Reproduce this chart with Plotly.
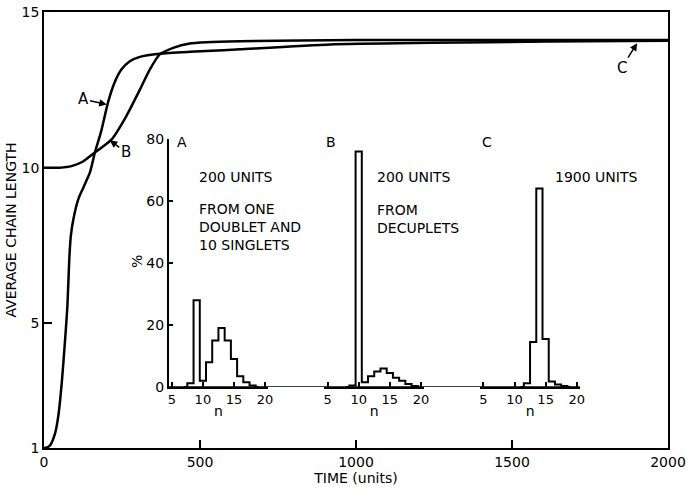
import plotly.graph_objects as go

# ---- main curves (average chain length vs time) ----
A_t = [0, 3, 19, 35, 46, 57, 67, 75, 81, 86, 94, 110, 126, 147, 163, 184, 205, 226, 248, 275, 307, 371, 467, 574, 628, 917, 1238, 1613, 2000]
A_v = [1.0, 1.0, 1.08, 1.45, 2.04, 3.1, 4.39, 5.56, 7.06, 7.81, 8.34, 8.99, 9.36, 9.84, 10.48, 11.2, 12.09, 12.73, 13.15, 13.42, 13.56, 13.66, 13.72, 13.77, 13.8, 13.96, 14.01, 14.05, 14.08]
B_t = [0, 50, 88, 125, 162, 216, 264, 307, 339, 371, 414, 467, 521, 628, 1000, 1500, 2000]
B_v = [10.0, 10.0, 10.05, 10.2, 10.48, 10.9, 11.66, 12.5, 13.15, 13.64, 13.85, 13.99, 14.03, 14.06, 14.1, 14.1, 14.1]

# ---- inset histograms (% vs n) ----
nA = [7, 8, 9, 10, 11, 12, 13, 14, 15, 16, 17, 18, 19]
pA = [0, 1.2, 28, 2, 8, 15, 19, 15, 9, 3.5, 1.5, 0.5, 0]
nB = [8, 9, 10, 11, 12, 13, 14, 15, 16, 17, 18, 19, 20]
pB = [0, 0.5, 76, 1.5, 3.5, 5, 6, 4.5, 3, 2, 1, 0.3, 0]
nC = [11, 12, 13, 14, 15, 16, 17, 18, 19]
pC = [0, 1.2, 14.5, 64, 15.5, 1.8, 0.8, 0.3, 0]

main_ticks = [0, 500, 1000, 1500, 2000]
y_ticks = [1, 5, 10, 15]
pct_ticks = [0, 20, 40, 60, 80]
n_ticks = [5, 10, 15, 20]

FONT = "DejaVu Sans"
fig = go.Figure()

fig.add_trace(go.Scatter(x=A_t, y=A_v, mode="lines", line=dict(color="black", width=2.5, shape="spline", smoothing=0.6),
                         xaxis="x", yaxis="y", showlegend=False))
fig.add_trace(go.Scatter(x=B_t, y=B_v, mode="lines", line=dict(color="black", width=2.5, shape="spline", smoothing=0.6),
                         xaxis="x", yaxis="y", showlegend=False))

for n, p, xa in [(nA, pA, "x2"), (nB, pB, "x3"), (nC, pC, "x4")]:
    fig.add_trace(go.Scatter(x=n, y=p, mode="lines", line=dict(color="black", width=2, shape="hvh"),
                             xaxis=xa, yaxis="y2", showlegend=False))

TS = 14
axfont = dict(family=FONT, size=TS, color="black")
fig.update_layout(
    width=691, height=491,
    margin=dict(l=44, r=23, t=12, b=43, autoexpand=False),
    paper_bgcolor="white", plot_bgcolor="white",
    font=axfont,
    xaxis=dict(domain=[0, 1], range=[0, 2000], tickvals=main_ticks, showline=True, mirror=True, linecolor="black",
               linewidth=1.5, ticks="inside", ticklen=8, tickwidth=1.5, tickcolor="black", showgrid=False, zeroline=False,
               automargin=False, tickfont=dict(family=FONT, size=TS), ticklabeloverflow="allow",
               title=dict(text="TIME (units)", font=dict(family=FONT, size=TS), standoff=2)),
    yaxis=dict(domain=[0, 1], range=[1, 15], tickvals=y_ticks, showline=True, mirror=True, linecolor="black",
               linewidth=1.5, ticks="inside", ticklen=8, tickwidth=1.5, tickcolor="black", showgrid=False, zeroline=False,
               automargin=False, tickfont=dict(family=FONT, size=TS), ticklabeloverflow="allow",
               title=dict(text="AVERAGE CHAIN LENGTH", font=dict(family=FONT, size=TS), standoff=2)),
    yaxis2=dict(domain=[0.1399, 0.7087], range=[0, 80], tickvals=pct_ticks, anchor="x2", showline=True,
                linecolor="black", linewidth=1.5, ticks="inside", ticklen=5, tickwidth=1.5, tickcolor="black",
                showgrid=False, zeroline=False, automargin=False, tickfont=dict(family=FONT, size=TS)),
)
doms = [[0.1998, 0.3593], [0.4495, 0.6090], [0.6992, 0.8587]]
for i, (ax, d) in enumerate(zip(["xaxis2", "xaxis3", "xaxis4"], doms)):
    fig.layout[ax] = dict(domain=d, range=[4.5, 20.5], tickvals=n_ticks, anchor="y2", showline=True,
                          linecolor="black", linewidth=1.5, ticks="inside", ticklen=5, tickwidth=1.5,
                          tickcolor="black", showgrid=False, zeroline=False, automargin=False,
                          tickfont=dict(family=FONT, size=TS - 1),
                          title=dict(text="n", font=dict(family=FONT, size=TS), standoff=0))

# continuous inset baseline
fig.add_shape(type="line", xref="paper", yref="y2", x0=doms[0][0], x1=doms[2][1], y0=0, y1=0,
              line=dict(color="black", width=1.5))

def txt(x, y, s, xanchor="left", size=14, angle=0):
    fig.add_annotation(x=x, y=y, xref="paper", yref="paper", text=s, showarrow=False, xanchor=xanchor,
                       yanchor="middle", textangle=angle, align="left",
                       font=dict(family=FONT, size=size, color="black"))

def py(p):
    return (448 - p) / 436

def px(p):
    return (p - 44) / 624

txt(px(181.7), py(141.7), "A", "center")
txt(px(331), py(141.7), "B", "center")
txt(px(486.7), py(141.7), "C", "center")
txt(px(196.7), py(177), "200 UNITS")
txt(px(196.7), py(227.2), "FROM ONE<br>DOUBLET AND<br>10 SINGLETS")
txt(px(375), py(177), "200 UNITS")
txt(px(375), py(218.9), "FROM<br>DECUPLETS")
txt(px(553.3), py(177), "1900 UNITS")
txt(px(137), py(262), "%", "center", 14, -90)

# curve labels with arrows
for head, tail, s in [((201, 12.03), (125, 12.2), "A"), ((211, 10.88), (262, 10.5), "B"), ((1901, 14.0), (1851, 13.2), "C")]:
    fig.add_annotation(x=head[0], y=head[1], ax=tail[0], ay=tail[1], xref="x", yref="y", axref="x", ayref="y",
                       text=s, showarrow=True, arrowhead=2, arrowsize=1, arrowwidth=1.5, arrowcolor="black",
                       font=dict(family=FONT, size=15, color="black"))

fig.write_html("out.html", config={"displayModeBar": False},
               post_script="document.body.style.margin='0';")
